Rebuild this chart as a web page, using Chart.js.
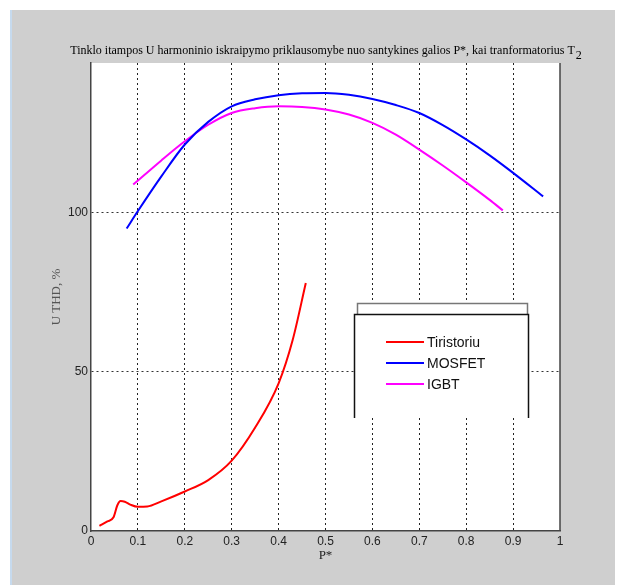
<!DOCTYPE html>
<html>
<head>
<meta charset="utf-8">
<script src="https://cdn.jsdelivr.net/npm/chart.js@4/dist/chart.umd.min.js"></script>
<style>
    body { margin: 0; background: #fff; }
    #bg { position: absolute; left: 10px; top: 10px; width: 603px; height: 575px; background: #cfcfcf; border-left: 2px solid #c6daee; }
    #line-chart { position: absolute; left: 0; top: 0; }
</style>
</head>
<body>
<div id="bg"></div>
<canvas id="line-chart" width="617" height="585"></canvas>
<script>
// U THD vs P* for the three converter types
const tirP   = [0.018, 0.035, 0.048, 0.056, 0.063, 0.072, 0.085, 0.1, 0.12, 0.15, 0.2, 0.25, 0.3, 0.35, 0.4, 0.43, 0.458];
const tirThd = [1.6, 3.0, 4.3, 8.0, 9.4, 9.2, 8.2, 7.6, 7.7, 9.3, 12.4, 16.0, 22.1, 32.5, 46.4, 60, 77.9];

const mosP   = [0.076, 0.1, 0.15, 0.2, 0.25, 0.3, 0.35, 0.4, 0.45, 0.5, 0.55, 0.6, 0.65, 0.7, 0.75, 0.8, 0.85, 0.9, 0.964];
const mosThd = [95, 100.5, 111.4, 121.4, 128.5, 133.4, 135.6, 136.9, 137.5, 137.6, 137, 135.7, 133.8, 131.3, 127.5, 123, 118, 112.5, 105.1];

const igbtP   = [0.09, 0.15, 0.2, 0.25, 0.3, 0.35, 0.4, 0.45, 0.5, 0.55, 0.6, 0.65, 0.7, 0.75, 0.8, 0.85, 0.878];
const igbtThd = [108.8, 116.4, 122.4, 127.6, 131.3, 132.8, 133.4, 133.2, 132.4, 130.8, 128.2, 124.5, 119.8, 114.8, 109.5, 104, 100.7];

const xTicks = [0, 0.1, 0.2, 0.3, 0.4, 0.5, 0.6, 0.7, 0.8, 0.9, 1];
const xTickLabels = ['0', '0.1', '0.2', '0.3', '0.4', '0.5', '0.6', '0.7', '0.8', '0.9', '1'];
const yTicks = [0, 50, 100];

const titleText = 'Tinklo itampos U harmoninio iskraipymo priklausomybe nuo santykines galios P*, kai tranformatorius T';
const titleSub = '2';

function pts(xs, ys) {
    return xs.map((x, i) => ({ x: x, y: ys[i] }));
}

// white plot area + right edge
const plotFrame = {
    id: 'plotFrame',
    beforeDraw(chart) {
        const a = chart.chartArea;
        chart.ctx.save();
        chart.ctx.fillStyle = '#fff';
        chart.ctx.fillRect(a.left, a.top, a.right - a.left, a.bottom - a.top);
        chart.ctx.restore();
    },
    afterDraw(chart) {
        const a = chart.chartArea;
        const ctx = chart.ctx;
        ctx.save();
        ctx.strokeStyle = '#444';
        ctx.lineWidth = 1.5;
        ctx.beginPath();
        ctx.moveTo(a.right, a.top);
        ctx.lineTo(a.right, a.bottom);
        ctx.stroke();
        ctx.restore();
    }
};

// title centred over the axes, with subscript
const axesTitle = {
    id: 'axesTitle',
    afterDraw(chart) {
        const a = chart.chartArea;
        const ctx = chart.ctx;
        const font = '12px "Liberation Serif", "Times New Roman", serif';
        ctx.save();
        ctx.font = font;
        const w1 = ctx.measureText(titleText).width;
        const w2 = ctx.measureText(titleSub).width;
        const x0 = (a.left + a.right) / 2 - (w1 + w2) / 2;
        ctx.fillStyle = '#000';
        ctx.textBaseline = 'alphabetic';
        ctx.fillText(titleText, x0, 54);
        ctx.fillText(titleSub, x0 + w1 + 1, 59);
        ctx.restore();
    }
};

// matlab style legend box
const legendBox = {
    id: 'legendBox',
    afterDraw(chart) {
        const ctx = chart.ctx;
        ctx.save();
        ctx.fillStyle = '#fff';
        ctx.fillRect(357, 303, 171, 11);
        ctx.strokeStyle = '#777';
        ctx.lineWidth = 1.5;
        ctx.beginPath();
        ctx.moveTo(357.5, 314);
        ctx.lineTo(357.5, 303.5);
        ctx.lineTo(527.5, 303.5);
        ctx.lineTo(527.5, 314);
        ctx.stroke();

        ctx.fillStyle = '#fff';
        ctx.fillRect(354, 314, 175, 104);
        ctx.strokeStyle = '#111';
        ctx.beginPath();
        ctx.moveTo(354.5, 418);
        ctx.lineTo(354.5, 314.5);
        ctx.lineTo(528.5, 314.5);
        ctx.lineTo(528.5, 418);
        ctx.stroke();

        ctx.font = '14px "Liberation Sans", Arial, sans-serif';
        ctx.textBaseline = 'middle';
        chart.data.datasets.forEach((ds, i) => {
            const y = 342 + i * 21;
            ctx.strokeStyle = ds.borderColor;
            ctx.lineWidth = 2;
            ctx.beginPath();
            ctx.moveTo(386, y);
            ctx.lineTo(424, y);
            ctx.stroke();
            ctx.fillStyle = '#111';
            ctx.fillText(ds.label, 427, y + 1);
        });
        ctx.restore();
    }
};

new Chart(document.getElementById('line-chart'), {
    type: 'line',
    data: {
        datasets: [{
            label: 'Tiristoriu',
            data: pts(tirP, tirThd),
            borderColor: '#ff0000'
        }, {
            label: 'MOSFET',
            data: pts(mosP, mosThd),
            borderColor: '#0000ff'
        }, {
            label: 'IGBT',
            data: pts(igbtP, igbtThd),
            borderColor: '#ff00ff'
        }]
    },
    options: {
        responsive: false,
        animation: false,
        devicePixelRatio: 1,
        layout: { padding: { left: 45, right: 57, top: 63, bottom: 18 } },
        elements: {
            line: { borderWidth: 2, fill: false, cubicInterpolationMode: 'monotone' },
            point: { radius: 0 }
        },
        plugins: {
            legend: { display: false },
            tooltip: { enabled: false },
            title: { display: false }
        },
        scales: {
            x: {
                type: 'linear',
                min: 0,
                max: 1,
                afterBuildTicks: (s) => { s.ticks = xTicks.map(v => ({ value: v })); },
                afterFit: (s) => { s.height = 36; },
                ticks: {
                    callback: (v) => xTickLabels[xTicks.indexOf(v)],
                    color: '#222',
                    padding: 3,
                    autoSkip: false,
                    maxRotation: 0,
                    font: { family: '"Liberation Sans", Arial, sans-serif', size: 12 }
                },
                grid: {
                    drawTicks: false,
                    color: (c) => (c.tick && (c.tick.value === 0 || c.tick.value === 1)) ? 'rgba(0,0,0,0)' : '#222',
                    lineWidth: 1
                },
                border: { display: true, color: '#444', width: 1.5, dash: [2, 3] },
                title: {
                    display: true,
                    text: 'P*',
                    color: '#222',
                    font: { family: '"Liberation Serif", "Times New Roman", serif', size: 13 }
                }
            },
            y: {
                min: 0,
                max: 147,
                afterBuildTicks: (s) => { s.ticks = yTicks.map(v => ({ value: v })); },
                afterFit: (s) => { s.width = 46; },
                ticks: {
                    color: '#222',
                    padding: 3,
                    font: { family: '"Liberation Sans", Arial, sans-serif', size: 12 }
                },
                grid: {
                    drawTicks: false,
                    color: (c) => (c.tick && c.tick.value === 0) ? 'rgba(0,0,0,0)' : '#333',
                    lineWidth: 1
                },
                border: { display: true, color: '#444', width: 1.5, dash: [2, 3] },
                title: {
                    display: true,
                    text: 'U THD, %',
                    color: '#555',
                    font: { family: '"Liberation Serif", "Times New Roman", serif', size: 13 }
                }
            }
        }
    },
    plugins: [plotFrame, axesTitle, legendBox]
});
</script>
</body>
</html>
